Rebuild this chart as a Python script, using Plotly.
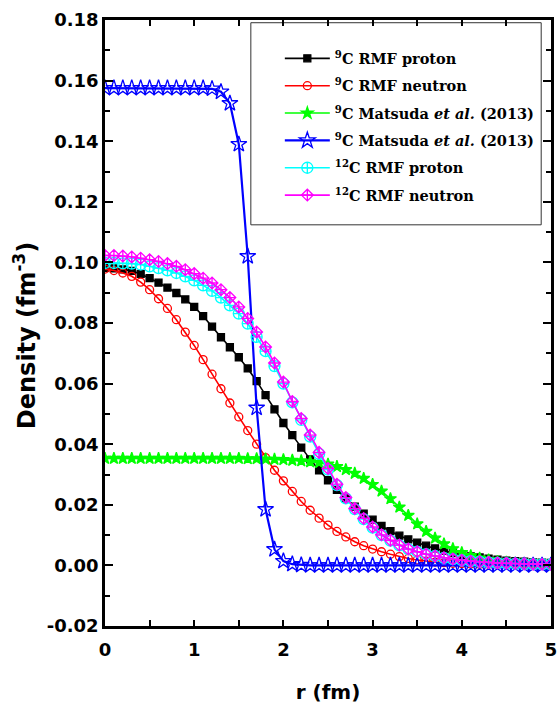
import plotly.graph_objects as go

r = [0.0, 0.1, 0.2, 0.3, 0.4, 0.5, 0.6, 0.7, 0.8, 0.9,
     1.0, 1.1, 1.2, 1.3, 1.4, 1.5, 1.6, 1.7, 1.8, 1.9,
     2.0, 2.1, 2.2, 2.3, 2.4, 2.5, 2.6, 2.7, 2.8, 2.9,
     3.0, 3.1, 3.2, 3.3, 3.4, 3.5, 3.6, 3.7, 3.8, 3.9,
     4.0, 4.1, 4.2, 4.3, 4.4, 4.5, 4.6, 4.7, 4.8, 4.9, 5.0]

c9_rmf_proton = [0.0982, 0.0980, 0.0977, 0.0972, 0.0962, 0.0948, 0.0933, 0.0917, 0.0899, 0.0878,
                 0.0853, 0.0823, 0.0788, 0.0753, 0.0720, 0.0687, 0.0650, 0.0608, 0.0562, 0.0515,
                 0.0470, 0.0430, 0.0389, 0.0350, 0.0314, 0.0281, 0.0249, 0.0221, 0.0194, 0.0171,
                 0.0151, 0.0130, 0.0113, 0.0098, 0.0086, 0.0075, 0.0065, 0.0056, 0.0048, 0.0041,
                 0.0035, 0.0030, 0.0026, 0.0022, 0.0019, 0.0016, 0.0014, 0.0012, 0.0010, 0.0009, 0.0008]

c9_rmf_neutron = [0.0978, 0.0973, 0.0965, 0.0954, 0.0935, 0.0910, 0.0880, 0.0848, 0.0811, 0.0770,
                  0.0726, 0.0679, 0.0631, 0.0583, 0.0536, 0.0490, 0.0445, 0.0400, 0.0356, 0.0314,
                  0.0279, 0.0244, 0.0211, 0.0182, 0.0156, 0.0133, 0.0112, 0.0094, 0.0078, 0.0065,
                  0.0054, 0.0045, 0.0037, 0.0029, 0.0023, 0.0018, 0.0014, 0.0011, 0.0009, 0.0007,
                  0.0006, 0.0005, 0.0004, 0.0004, 0.0003, 0.0003, 0.0002, 0.0002, 0.0002, 0.0001, 0.0001]

c9_matsuda_green = [0.0353, 0.0353, 0.0353, 0.0353, 0.0353, 0.0353, 0.0353, 0.0353, 0.0353, 0.0353,
                    0.0353, 0.0353, 0.0353, 0.0353, 0.0353, 0.0353, 0.0352, 0.0352, 0.0351, 0.0350,
                    0.0349, 0.0347, 0.0345, 0.0342, 0.0339, 0.0334, 0.0326, 0.0316, 0.0304, 0.0287,
                    0.0267, 0.0245, 0.0220, 0.0192, 0.0165, 0.0137, 0.0112, 0.0090, 0.0071, 0.0055,
                    0.0042, 0.0032, 0.0024, 0.0018, 0.0013, 0.0010, 0.0007, 0.0005, 0.0004, 0.0003, 0.0002]

c9_matsuda_blue = [0.1575, 0.1575, 0.1575, 0.1575, 0.1575, 0.1575, 0.1575, 0.1575, 0.1575, 0.1575,
                   0.1575, 0.1575, 0.1573, 0.1563, 0.1525, 0.1390, 0.1020, 0.0520, 0.0185, 0.0053,
                   0.0014, 0.0004, 0.0001, 0.0, 0.0, 0.0, 0.0, 0.0, 0.0, 0.0,
                   0.0, 0.0, 0.0, 0.0, 0.0, 0.0, 0.0, 0.0, 0.0, 0.0,
                   0.0, 0.0, 0.0, 0.0, 0.0, 0.0, 0.0, 0.0, 0.0, 0.0, 0.0]

c12_rmf_proton = [0.0998, 0.0998, 0.0997, 0.0996, 0.0993, 0.0987, 0.0981, 0.0974, 0.0965, 0.0954,
                  0.0941, 0.0924, 0.0906, 0.0884, 0.0858, 0.0831, 0.0798, 0.0754, 0.0707, 0.0658,
                  0.0600, 0.0538, 0.0480, 0.0425, 0.0368, 0.0316, 0.0265, 0.0221, 0.0186, 0.0153,
                  0.0125, 0.0100, 0.0082, 0.0066, 0.0054, 0.0045, 0.0037, 0.0031, 0.0025, 0.0021,
                  0.0017, 0.0014, 0.0012, 0.0010, 0.0008, 0.0007, 0.0006, 0.0005, 0.0004, 0.0004, 0.0003]

c12_rmf_neutron = [0.1023, 0.1023, 0.1021, 0.1018, 0.1014, 0.1009, 0.1003, 0.0996, 0.0987, 0.0976,
                   0.0963, 0.0948, 0.0932, 0.0910, 0.0884, 0.0853, 0.0815, 0.0770, 0.0721, 0.0668,
                   0.0605, 0.0541, 0.0485, 0.0430, 0.0373, 0.0320, 0.0268, 0.0224, 0.0188, 0.0155,
                   0.0127, 0.0101, 0.0083, 0.0067, 0.0054, 0.0045, 0.0037, 0.0031, 0.0025, 0.0021,
                   0.0017, 0.0014, 0.0012, 0.0010, 0.0008, 0.0007, 0.0006, 0.0005, 0.0004, 0.0004, 0.0003]

x_tickvals = [0, 1, 2, 3, 4, 5]
x_ticktext = ["0", "1", "2", "3", "4", "5"]
y_tickvals = [-0.02, 0.0, 0.02, 0.04, 0.06, 0.08, 0.10, 0.12, 0.14, 0.16, 0.18]
y_ticktext = ["-0.02", "0.00", "0.02", "0.04", "0.06", "0.08", "0.10", "0.12", "0.14", "0.16", "0.18"]

series = [
    ("<sup>9</sup>C RMF proton", c9_rmf_proton, "#000000", "square", 7, 1.6),
    ("<sup>9</sup>C RMF neutron", c9_rmf_neutron, "#FF0000", "circle-open", 8, 1.6),
    ("<sup>9</sup>C Matsuda <i>et al.</i> (2013)", c9_matsuda_green, "#00FF00", "star", 9, 1.6),
    ("<sup>9</sup>C Matsuda <i>et al.</i> (2013)", c9_matsuda_blue, "#0000FF", "star-open", 12, 2.2),
    ("<sup>12</sup>C RMF proton", c12_rmf_proton, "#00FFFF", "circle-cross-open", 11, 1.6),
    ("<sup>12</sup>C RMF neutron", c12_rmf_neutron, "#FF00FF", "diamond-cross-open", 9, 1.6),
]

fig = go.Figure()
for i, (name, vals, color, sym, size, lw) in enumerate(series):
    fig.add_trace(go.Scatter(
        x=r, y=vals, name=name, mode="lines+markers", legendgroup=f"g{i}",
        line=dict(color=color, width=lw),
        marker=dict(symbol=sym, size=size, color=color, line=dict(color=color, width=1.3)),
    ))

axis_font = dict(family="DejaVu Sans", size=18, color="black", weight="bold")

fig.add_shape(type="rect", xref="paper", yref="paper",
              x0=0.327, x1=0.978, y0=0.662, y1=0.9955,
              line=dict(color="#333333", width=1), fillcolor="white", layer="below")

fig.add_annotation(
    text="Density (fm<sup>-3</sup>)", textangle=-90,
    xref="paper", yref="paper", x=-0.179, y=0.4785,
    xanchor="center", yanchor="middle", showarrow=False,
    font=dict(family="DejaVu Sans", size=24, color="black", weight="bold"),
)

fig.update_layout(
    width=557, height=704,
    margin=dict(l=105, r=6, t=20, b=78, autoexpand=False),
    plot_bgcolor="white", paper_bgcolor="white",
    showlegend=True,
    legend=dict(
        x=0.392, y=0.963, xanchor="left", yanchor="top",
        bgcolor="rgba(0,0,0,0)", borderwidth=0,
        font=dict(family="DejaVu Serif", size=14.5, color="black", weight="bold"),
        itemwidth=45, tracegroupgap=5.5,
    ),
    xaxis=dict(
        range=[0, 5], tickvals=x_tickvals, ticktext=x_ticktext,
        showgrid=False, zeroline=False,
        showline=True, linecolor="black", linewidth=2.5, mirror="ticks",
        ticks="inside", ticklen=6, tickwidth=2, tickcolor="black",
        minor=dict(dtick=0.5, ticks="inside", ticklen=6, tickwidth=2, tickcolor="black"),
        tickfont=axis_font, ticklabelstandoff=6, ticklabeloverflow="allow",
        title=dict(text="r (fm)", font=dict(family="DejaVu Sans", size=20, color="black", weight="bold"), standoff=26),
    ),
    yaxis=dict(
        range=[-0.02, 0.18], tickvals=y_tickvals, ticktext=y_ticktext,
        showgrid=False, zeroline=False,
        showline=True, linecolor="black", linewidth=2.5, mirror="ticks",
        ticks="inside", ticklen=8, tickwidth=2, tickcolor="black",
        minor=dict(dtick=0.01, ticks="inside", ticklen=5, tickwidth=2, tickcolor="black"),
        tickfont=axis_font, ticklabeloverflow="allow",
    ),
)

fig.write_html("out.html")
